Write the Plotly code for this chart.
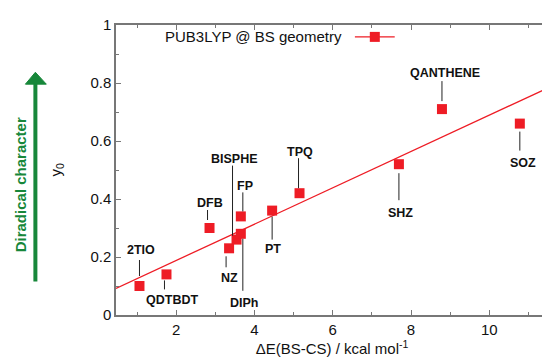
import plotly.graph_objects as go

# ---- data ----
names = ["2TIO", "QDTBDT", "DFB", "NZ", "BISPHE", "DIPh", "FP", "PT", "TPQ", "SHZ", "QANTHENE", "SOZ"]
delta_e = [1.06, 1.75, 2.85, 3.35, 3.54, 3.65, 3.65, 4.45, 5.15, 7.69, 8.79, 10.78]
y0_vals = [0.10, 0.14, 0.30, 0.23, 0.26, 0.28, 0.34, 0.36, 0.42, 0.52, 0.71, 0.66]
fit_intercept = 0.063
fit_slope = 0.0626
x_ticks = [2, 4, 6, 8, 10]
y_ticks = [0, 0.2, 0.4, 0.6, 0.8, 1]
y_tick_labels = ["0", "0.2", "0.4", "0.6", "0.8", "1"]
series_name = "PUB3LYP @ BS geometry"

# ---- style / layout ----
FONT = "Liberation Sans, Arial, Helvetica, sans-serif"
RED = "#ee1c25"
GREEN = "#17873a"
AXIS = "#777777"
X_RANGE = [0.46, 11.5]
Y_RANGE = [0, 1]

# label offsets in pixels relative to the point: text dx, text dy, line dx, line y0, line y1 (up positive)
label_offsets = {
    "2TIO": (2, 36, 0, 10, 26),
    "QDTBDT": (6, -26, -2, -6, -15),
    "DFB": (0, 25, -2, 8, 18),
    "BISPHE": (-2, 81, -4, 4, 74),
    "FP": (4, 30, 2, 5, 24),
    "PT": (1, -38, 0, -6, -29),
    "TPQ": (0, 41, -1, 5, 35),
    "NZ": (0, -30, -3, -8, -19),
    "DIPh": (3, -69, 2, -5, -57),
    "QANTHENE": (3, 36, 0, 8, 28),
    "SOZ": (3, -39, 0, -8, -27),
    "SHZ": (2, -49, 0, -9, -36),
}

fig = go.Figure()

fit_x = X_RANGE
fit_y = [fit_intercept + fit_slope * v for v in fit_x]
fig.add_trace(go.Scatter(x=fit_x, y=fit_y, mode="lines", line=dict(color=RED, width=1.3),
                         showlegend=False, hoverinfo="skip"))
fig.add_trace(go.Scatter(x=delta_e, y=y0_vals, mode="markers", name=series_name, text=names,
                         marker=dict(symbol="square", size=10, color=RED, line=dict(width=0)),
                         showlegend=False))

shapes = []
annotations = []
for n, xv, yv in zip(names, delta_e, y0_vals):
    tdx, tdy, ldx, ly0, ly1 = label_offsets[n]
    annotations.append(dict(x=xv, y=yv, xref="x", yref="y", text="<b>%s</b>" % n, showarrow=False,
                            xanchor="center", yanchor="middle",
                            xshift=tdx, yshift=tdy, font=dict(family=FONT, size=12.5, color="#111111")))
    shapes.append(dict(type="line", xref="x", yref="y", xsizemode="pixel", ysizemode="pixel",
                       xanchor=xv, yanchor=yv, x0=ldx, x1=ldx, y0=ly0, y1=ly1,
                       line=dict(color="#222222", width=1)))

# legend drawn gnuplot-style: text then sample on the right
annotations.append(dict(x=0.5276, y=0.959, xref="paper", yref="paper", xanchor="right", yanchor="middle",
                        text=series_name, showarrow=False, font=dict(family=FONT, size=15, color="#111111")))
shapes.append(dict(type="line", xref="paper", yref="paper", x0=0.553, x1=0.6452, y0=0.959, y1=0.959,
                   line=dict(color=RED, width=1.3)))
shapes.append(dict(type="rect", xref="paper", yref="paper", xsizemode="pixel", ysizemode="pixel",
                   xanchor=0.5991, yanchor=0.959, x0=-5, x1=5, y0=-5, y1=5,
                   fillcolor=RED, line=dict(width=0)))

# green arrow
shapes.append(dict(type="line", xref="paper", yref="paper", x0=-0.1866, x1=-0.1866, y0=0.1156, y1=0.80,
                   line=dict(color=GREEN, width=4)))
shapes.append(dict(type="path", xref="paper", yref="paper",
                   path="M -0.2097 0.796 L -0.1866 0.837 L -0.1613 0.796 Z",
                   fillcolor=GREEN, line=dict(color=GREEN, width=1)))
annotations.append(dict(x=-0.221, y=0.449, xref="paper", yref="paper", textangle=-90, showarrow=False,
                        xanchor="center", yanchor="middle",
                        text="<b>Diradical character</b>", font=dict(family=FONT, size=15, color=GREEN)))
annotations.append(dict(x=-0.140, y=0.50, xref="paper", yref="paper", textangle=-90, showarrow=False,
                        xanchor="center", yanchor="middle",
                        text="y<sub>0</sub>", font=dict(family=FONT, size=15, color="#111111")))

fig.update_layout(
    width=550, height=361,
    margin=dict(l=108, r=8, t=13, b=54),
    paper_bgcolor="white", plot_bgcolor="white",
    font=dict(family=FONT, size=15, color="#111111"),
    shapes=shapes, annotations=annotations,
    xaxis=dict(range=X_RANGE, tickvals=x_ticks, ticks="inside", ticklen=5, tickwidth=1, tickcolor=AXIS,
               showline=True, linecolor=AXIS, linewidth=1.5, mirror="ticks", showgrid=False, zeroline=False,
               minor=dict(dtick=1, tick0=0, ticks="inside", ticklen=3, tickcolor=AXIS, showgrid=False),
               title=dict(text="ΔE(BS-CS) / kcal mol<sup>-1</sup>", standoff=6, font=dict(size=15)),
               tickfont=dict(size=15)),
    yaxis=dict(range=Y_RANGE, tickvals=y_ticks, ticktext=y_tick_labels, ticks="inside", ticklen=5,
               tickwidth=1, tickcolor=AXIS, showline=True, linecolor=AXIS, linewidth=1.5, mirror="ticks",
               showgrid=False, zeroline=False,
               minor=dict(dtick=0.1, tick0=0, ticks="inside", ticklen=3, tickcolor=AXIS, showgrid=False),
               tickfont=dict(size=15)),
)

fig.write_html("out.html")
